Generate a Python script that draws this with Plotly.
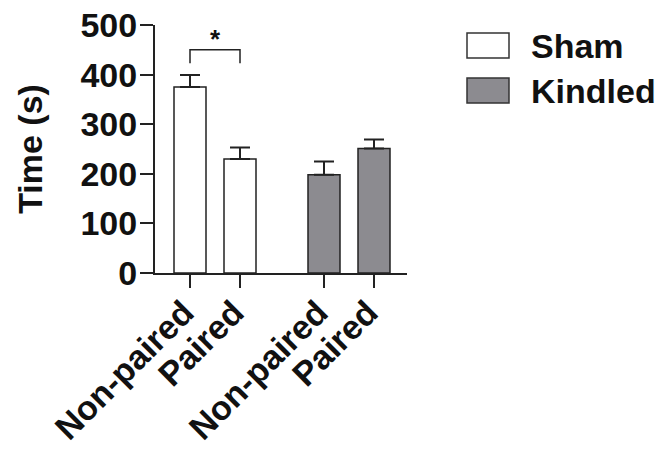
import plotly.graph_objects as go

# ---- data ----
groups = ["Sham", "Kindled"]
categories = ["Non-paired", "Paired"]
sham_means = [375, 230]
sham_sem = [24, 23]
kindled_means = [198, 251]
kindled_sem = [27, 18]
y_ticks = [0, 100, 200, 300, 400, 500]
sig_label = "*"

W, H = 660, 451
ML, MR, MT, MB = 155, 253, 25, 178
FONT = "Liberation Sans, Arial, sans-serif"
FS = 34

# x positions: two groups, with a gap between groups
group_gap = 1.68
x_sham = [0, 1]
x_kind = [group_gap + 1, group_gap + 2]

fig = go.Figure()
fig.add_trace(go.Bar(
    x=x_sham, y=sham_means, width=0.64, name=groups[0],
    marker=dict(color="white", line=dict(color="#222", width=1.5)),
    error_y=dict(type="data", symmetric=False, array=sham_sem,
                 arrayminus=[0] * len(sham_sem), color="#222",
                 thickness=2, width=10),
    showlegend=False, hoverinfo="skip",
))
fig.add_trace(go.Bar(
    x=x_kind, y=kindled_means, width=0.64, name=groups[1],
    marker=dict(color="#8c8b90", line=dict(color="#222", width=1.5)),
    error_y=dict(type="data", symmetric=False, array=kindled_sem,
                 arrayminus=[0] * len(kindled_sem), color="#222",
                 thickness=2, width=10),
    showlegend=False, hoverinfo="skip",
))

def px2paper_x(px):
    return (px - ML) / (W - ML - MR)

def px2paper_y(py):
    return (H - MB - py) / (H - MT - MB)

# significance bracket (data coordinates)
br_y = 450
br_leg = 423
fig.add_shape(type="path", xref="x", yref="y",
              path=f"M {x_sham[0]},{br_leg} L {x_sham[0]},{br_y} L {x_sham[1]},{br_y} L {x_sham[1]},{br_leg}",
              line=dict(color="#222", width=1.5))
fig.add_annotation(x=(x_sham[0] + x_sham[1]) / 2, y=br_y, xref="x", yref="y",
                   text=sig_label, showarrow=False, yanchor="bottom", yshift=-6,
                   font=dict(family=FONT, size=26, color="#111", weight="bold"))

# custom legend
fills = ["white", "#8c8b90"]
for i, (g, c) in enumerate(zip(groups, fills)):
    top = 33 + i * 45
    fig.add_shape(type="rect", xref="paper", yref="paper",
                  x0=px2paper_x(467), x1=px2paper_x(509),
                  y0=px2paper_y(top + 25), y1=px2paper_y(top),
                  fillcolor=c, line=dict(color="#333", width=1.5))
    fig.add_annotation(xref="paper", yref="paper",
                       x=px2paper_x(529), y=px2paper_y(top + 12.5),
                       text=g, showarrow=False, xanchor="left", yanchor="middle",
                       font=dict(family=FONT, size=FS, color="#111", weight="bold"))

fig.update_layout(
    width=W, height=H,
    margin=dict(l=ML, r=MR, t=MT, b=MB, autoexpand=False),
    paper_bgcolor="white", plot_bgcolor="white",
    bargap=0,
    font=dict(family=FONT, color="#111"),
)
fig.update_xaxes(
    range=[-0.7, 4.34], automargin=False,
    tickmode="array", tickvals=x_sham + x_kind,
    ticktext=categories + categories,
    tickangle=-45,
    tickfont=dict(family=FONT, size=FS, color="#111", weight="bold"),
    ticks="outside", ticklen=13, tickwidth=2, tickcolor="#222",
    ticklabelstandoff=-9, ticklabelshift=-6,
    showline=True, linecolor="#222", linewidth=2,
    showgrid=False, zeroline=False,
)
fig.update_yaxes(
    range=[0, 500], automargin=False,
    tickmode="array", tickvals=y_ticks,
    tickfont=dict(family=FONT, size=FS, color="#111", weight="bold"),
    ticks="outside", ticklen=13, tickwidth=2, tickcolor="#222",
    ticklabelstandoff=-4,
    showline=True, linecolor="#222", linewidth=2,
    showgrid=False, zeroline=False,
    title=dict(text="Time (s)", standoff=28,
               font=dict(family=FONT, size=FS, color="#111", weight="bold")),
)

fig.write_html("out.html", config={"displayModeBar": False, "staticPlot": True},
               post_script="document.body.style.margin='0';document.body.style.overflow='hidden';")
